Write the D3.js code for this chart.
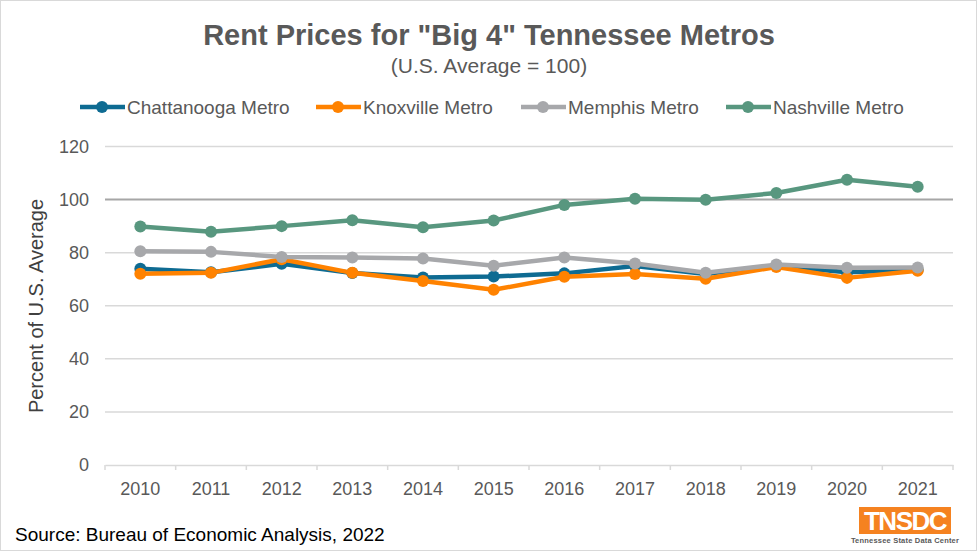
<!DOCTYPE html>
<html><head><meta charset="utf-8">
<script src="https://cdn.jsdelivr.net/npm/d3@7"></script>
<style>body{margin:0;background:#fff}svg{display:block;font-family:Arial,"Liberation Sans",sans-serif}</style>
</head><body><svg id="c" width="977" height="551"></svg>
<script>
const years = ["2010","2011","2012","2013","2014","2015","2016","2017","2018","2019","2020","2021"];
const chattanooga = [73.9,72.6,75.8,72.3,70.6,71.0,72.2,75.0,72.0,75.1,72.6,73.5];
const knoxville   = [72.1,72.4,77.5,72.4,69.3,66.0,70.9,72.0,70.2,74.6,70.5,73.2];
const memphis     = [80.5,80.3,78.4,78.2,77.8,75.1,78.2,75.9,72.4,75.5,74.3,74.4];
const nashville   = [89.9,87.9,90.0,92.2,89.6,92.1,98.0,100.3,99.9,102.5,107.5,104.8];
const seriesNames = ["Chattanooga Metro","Knoxville Metro","Memphis Metro","Nashville Metro"];
const seriesColors = ["#0e6b92","#ff8200","#a7a8ab","#58977f"];
const yTicks = [0,20,40,60,80,100,120];

const series = [chattanooga, knoxville, memphis, nashville].map((v,i)=>({name:seriesNames[i],color:seriesColors[i],values:v}));
const svg = d3.select("#c");
svg.append("rect").attr("x",0.5).attr("y",0.5).attr("width",976).attr("height",550).attr("fill","#fff").attr("stroke","#d9d9d9");

const x = d3.scaleBand().domain(years).range([105,953]);
const y = d3.scaleLinear().domain([0,120]).range([465,146.5]);

// gridlines
svg.append("g").selectAll("line").data(yTicks.filter(d=>d>0)).join("line")
  .attr("x1",105).attr("x2",953).attr("y1",d=>y(d)).attr("y2",d=>y(d))
  .attr("stroke",d=>d===100?"#a6a6a6":"#d9d9d9").attr("stroke-width",d=>d===100?2:1.5);

// y axis labels
svg.append("g").selectAll("text").data(yTicks).join("text")
  .attr("x",89).attr("y",d=>y(d)).attr("dy","0.35em").attr("text-anchor","end")
  .attr("font-size",18).attr("fill","#595959").text(d=>d);

// x axis
const xa = svg.append("g").attr("transform","translate(0,465)")
  .call(d3.axisBottom(x).tickSize(0).tickPadding(17));
xa.select(".domain").attr("stroke","#d9d9d9").attr("stroke-width",1.5);
xa.selectAll("text").attr("font-size",18).attr("fill","#595959").attr("font-family","Arial,'Liberation Sans',sans-serif");
const bounds = years.map(d=>x(d)).concat([x.range()[1]]);
svg.append("g").selectAll("line").data(bounds).join("line")
  .attr("x1",d=>d).attr("x2",d=>d).attr("y1",465).attr("y2",470).attr("stroke","#d9d9d9").attr("stroke-width",1.5);

// y axis title
svg.append("text").attr("transform","translate(43,306) rotate(-90)").attr("text-anchor","middle")
  .attr("font-size",20).attr("fill","#404040").text("Percent of U.S. Average");

// lines
const cx = d=>x(d)+x.bandwidth()/2;
const line = d3.line().x((d,i)=>cx(years[i])).y(d=>y(d));
series.forEach(s=>{
  const g = svg.append("g");
  g.append("path").attr("d",line(s.values)).attr("fill","none").attr("stroke",s.color).attr("stroke-width",4.5).attr("stroke-linejoin","round");
  g.selectAll("circle").data(s.values).join("circle").attr("cx",(d,i)=>cx(years[i])).attr("cy",d=>y(d)).attr("r",6).attr("fill",s.color);
});

// title
svg.append("text").attr("x",489).attr("y",45).attr("text-anchor","middle").attr("font-size",29).attr("font-weight","bold").attr("fill","#595959").text('Rent Prices for "Big 4" Tennessee Metros');
svg.append("text").attr("x",489).attr("y",73).attr("text-anchor","middle").attr("font-size",21).attr("fill","#595959").text("(U.S. Average = 100)");

// legend
const legX = [80,316,521,726];
series.forEach((s,i)=>{
  const g = svg.append("g").attr("transform",`translate(${legX[i]},107)`);
  g.append("line").attr("x1",0).attr("x2",45).attr("stroke",s.color).attr("stroke-width",4.5);
  g.append("circle").attr("cx",22).attr("r",6).attr("fill",s.color);
  g.append("text").attr("x",47).attr("dy","0.35em").attr("font-size",19).attr("fill","#595959").text(s.name);
});

// source
svg.append("text").attr("x",15).attr("y",541).attr("font-size",19).attr("fill","#000").text("Source: Bureau of Economic Analysis, 2022");

// logo
svg.append("rect").attr("x",859).attr("y",507).attr("width",92).attr("height",27).attr("fill","#f58220");
svg.append("text").attr("x",905).attr("y",530).attr("text-anchor","middle").attr("font-size",26).attr("font-weight","bold").attr("fill","#fff").attr("letter-spacing",-1.5).text("TNSDC");
svg.append("text").attr("x",905).attr("y",543).attr("text-anchor","middle").attr("font-size",7.5).attr("font-weight","bold").attr("fill","#595959").attr("letter-spacing",0.2).text("Tennessee State Data Center");
</script></body></html>
